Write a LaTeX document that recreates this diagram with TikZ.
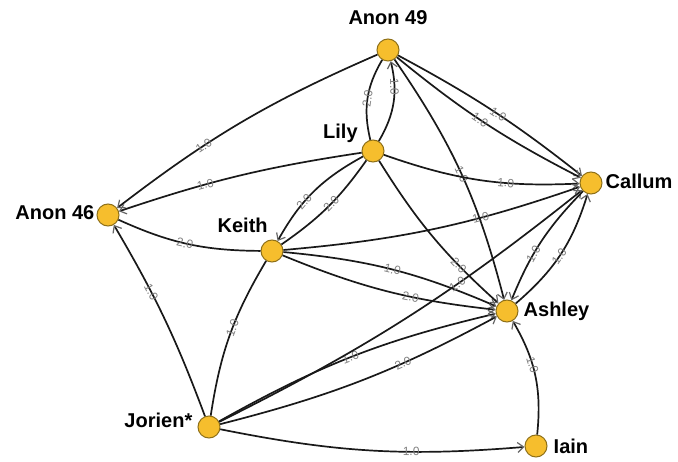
\documentclass[tikz,border=0pt]{standalone}
\usepackage{fontspec}
\setmainfont{Liberation Sans}
\usepackage{xcolor}
\usepackage{tikz}
\usetikzlibrary{arrows.meta,positioning}
\definecolor{nodeyellow}{HTML}{F6BE2D}
\definecolor{nodeedge}{HTML}{8E7019}
\tikzset{person/.style={draw=nodeedge, fill=nodeyellow, circle, line width=1pt, minimum size=22pt, inner sep=0pt}}
\tikzset{personname/.style={text=black, font=\fontsize{20}{20}\selectfont\bfseries, inner sep=0pt}}
\tikzset{weight/.style={sloped, text=gray, font=\fontsize{12}{12}\selectfont, inner sep=1pt}}
\tikzset{line/.style={draw, line width=1.7pt, black!90, -{Straight Barb[length=6pt, width=10pt, line width=1.2pt, color=black!60]}}}
\tikzset{plainline/.style={draw, line width=1.7pt, black!90}}

\begin{document}
\begin{tikzpicture}[x=1pt, y=1pt]
		\useasboundingbox (0,0) rectangle (678,461);
		
		%people
		\node [person] (a49) at (388,411) {};
		\node [person] (lily) at (373,310) {};
		\node [person] (callum) at (591,278) {};
		\node [person] (a46) at (108,246) {};
		\node [person] (keith) at (272,210) {};
		\node [person] (ashley) at (507,150) {};
		\node [person] (jorien) at (209,34) {};
		\node [person] (iain) at (536,15) {};
		
		\node [personname, above=14pt of a49] (a49name) {Anon 49};
		\node [personname, above left=0pt and 7pt of lily] (lilyname) {Lily};
		\node [personname, right=3pt of callum, yshift=2pt] (callumname) {Callum};
		\node [personname, left=2pt of a46, yshift=2pt] (a46name) {Anon 46};
		\node [personname, above left=10pt and -4pt of keith] (keithname) {Keith};
		\node [personname, right=5pt of ashley] (ashleyname) {Ashley};
		\node [personname, left=5pt of jorien, yshift=7pt] (jorienname) {Jorien*};
		\node [personname, right=6pt of iain] (iainname) {Iain};
		
		%links
		\path [line] (a49) to[bend right=7] node[weight, pos=.66] {1.0} (a46);
		\path [line] (lily) to[bend right=5] node[weight, pos=.65] {1.0} (a46);
		\path [plainline] (a46) to[bend right=12] node[weight, pos=.48] {2.0} (keith);
		\path [line] (jorien) to[bend right=5] node[weight, pos=.65] {1.0} (a46);
		
		\path [line] (lily) to[bend right=22] node[weight, pos=.7] {1.0} (a49);
		\path [plainline] (lily) to[bend left=22] node[weight, pos=.5] {2.0} (a49);
		\path [line] (lily) to[bend right=16] node[weight, pos=.62] {2.0} (keith);
		\path [plainline] (lily) to[bend left=10] node[weight, pos=.46] {2.0} (keith);
		
		\path [line] (a49) to[bend left=5] node[weight, pos=.53] {1.0} (callum);
		\path [line] (a49) to[bend right=6] node[weight, pos=.47] {1.0} (callum);
		\path [line] (a49) to[bend left=10] node[weight, pos=.5] {1.0} (ashley);
		\path [line] (lily) to[bend right=11] node[weight, pos=.64] {1.0} (callum);
		\path [line] (lily) to[bend right=8] node[weight, pos=.72] {2.0} (ashley);
		
		\path [line] (keith) to[bend right=7] node[weight, pos=.67] {1.0} (callum);
		\path [line] (keith) to[bend left=9] node[weight, pos=.5] {1.0} (ashley);
		\path [line] (keith) to[bend right=8] node[weight, pos=.62] {2.0} (ashley);
		\path [plainline] (keith) to[bend right=11] node[weight, pos=.45] {1.0} (jorien);
		
		\path [line] (jorien) to[bend left=8] node[weight, pos=.49] {1.0} (ashley);
		\path [line] (jorien) to[bend right=7] node[weight, pos=.66] {2.0} (ashley);
		\path [line] (jorien) to[bend right=6] node[weight, pos=.65] {1.0} (callum);
		\path [line] (jorien) to[bend right=8] node[weight, pos=.64] {1.0} (iain);
		
		\path [line] (callum) to[bend right=11] node[weight, pos=.62] {1.0} (ashley);
		\path [line] (ashley) to[bend right=16] node[weight, pos=.48] {1.0} (callum);
		\path [line] (iain) to[bend right=18] node[weight, pos=.6] {1.0} (ashley);
		
		\end{tikzpicture}
\end{document}
